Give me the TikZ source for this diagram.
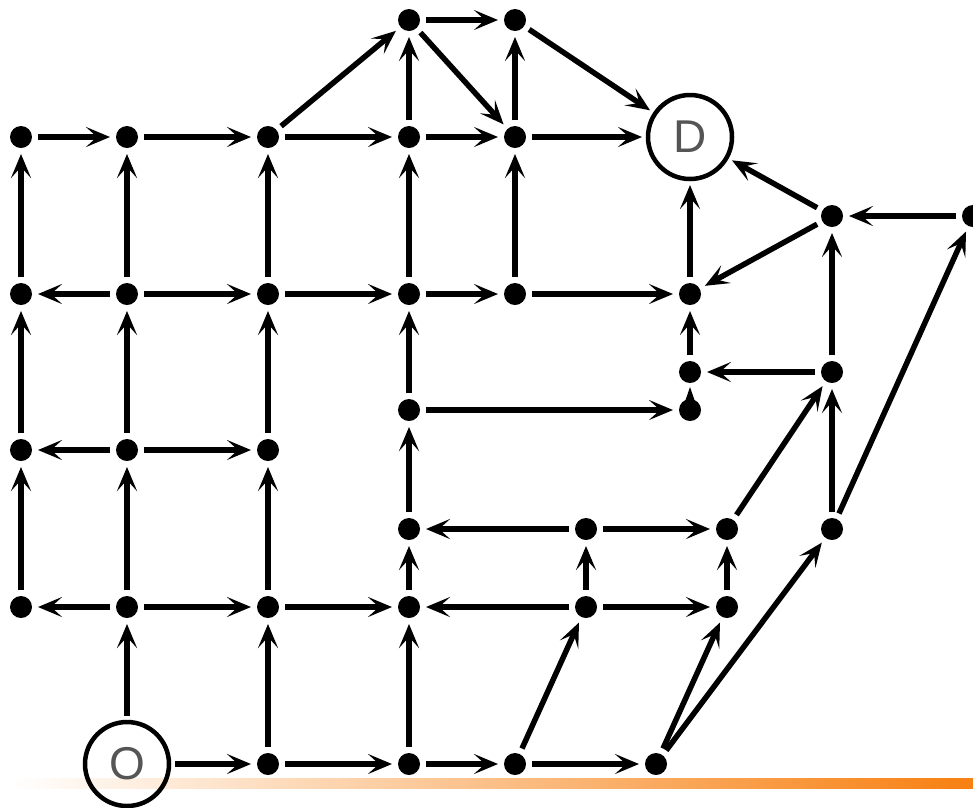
\documentclass[tikz,border=0pt]{standalone}
\usepackage{fontspec}
\setmainfont{Liberation Sans}
\usetikzlibrary{arrows.meta}
\definecolor{lineorange}{RGB}{247,128,17}
\definecolor{labelgray}{RGB}{85,85,85}
\begin{document}
\begin{tikzpicture}[x=1pt,y=-1pt,
  dot/.style={circle,fill=black,inner sep=0pt,minimum size=22pt,outer sep=6pt},
  bigc/.style={circle,draw=black,line width=4.5pt,inner sep=0pt,minimum size=84pt,outer sep=6pt,
    text=labelgray,font=\fontsize{46}{46}\selectfont},
  arr/.style={line width=5.5pt,-{Stealth[length=24pt,width=20pt,inset=11pt]}}]
\useasboundingbox (0,0) rectangle (973,807);
% orange base line
\shade[left color=white,right color=lineorange] (10,778) rectangle (973,788);
% nodes
\node[dot] (t1) at (409,20) {};
\node[dot] (t2) at (515,20) {};
\node[dot] (a1) at (21,137) {};
\node[dot] (a2) at (127,137) {};
\node[dot] (a3) at (268,137) {};
\node[dot] (a4) at (409,137) {};
\node[dot] (a5) at (515,137) {};
\node[bigc] (D) at (690,137) {D};
\node[dot] (e1) at (832,216) {};
\node[dot] (e2) at (973,216) {};
\node[dot] (b1) at (21,294) {};
\node[dot] (b2) at (127,294) {};
\node[dot] (b3) at (268,294) {};
\node[dot] (b4) at (409,294) {};
\node[dot] (b5) at (515,294) {};
\node[dot] (b6) at (690,294) {};
\node[dot] (f1) at (690,372) {};
\node[dot] (f2) at (832,372) {};
\node[dot] (g1) at (409,410) {};
\node[dot] (g2) at (690,410) {};
\node[dot] (c1) at (21,450) {};
\node[dot] (c2) at (127,450) {};
\node[dot] (c3) at (268,450) {};
\node[dot] (h1) at (409,529) {};
\node[dot] (h2) at (586,529) {};
\node[dot] (h3) at (727,529) {};
\node[dot] (h4) at (832,529) {};
\node[dot] (d1) at (21,607) {};
\node[dot] (d2) at (127,607) {};
\node[dot] (d3) at (268,607) {};
\node[dot] (d4) at (409,607) {};
\node[dot] (d5) at (586,607) {};
\node[dot] (d6) at (727,607) {};
\node[bigc] (O) at (127,764) {O};
\node[dot] (o2) at (268,764) {};
\node[dot] (o3) at (409,764) {};
\node[dot] (o4) at (515,764) {};
\node[dot] (o5) at (656,764) {};
% small tip on g2
\fill (690,387) -- (684.5,403) -- (695.5,403) -- cycle;
% edges: top
\draw[arr] (t1) -- (t2);
\draw[arr] (a3) -- (t1);
\draw[arr] (a4) -- (t1);
\draw[arr] (t1) -- (a5);
\draw[arr] (a5) -- (t2);
\draw[arr] (t2) -- (D);
\draw[arr] (a5) -- (D);
\draw[arr] (a1) -- (a2);
\draw[arr] (a2) -- (a3);
\draw[arr] (a3) -- (a4);
\draw[arr] (a4) -- (a5);
% verticals to row 137
\draw[arr] (b1) -- (a1);
\draw[arr] (b2) -- (a2);
\draw[arr] (b3) -- (a3);
\draw[arr] (b4) -- (a4);
\draw[arr] (b5) -- (a5);
% row 294
\draw[arr] (b2) -- (b1);
\draw[arr] (b2) -- (b3);
\draw[arr] (b3) -- (b4);
\draw[arr] (b4) -- (b5);
\draw[arr] (b5) -- (b6);
\draw[arr] (b6) -- (D);
% right part
\draw[arr] (e1) -- (D);
\draw[arr] (e1) -- (b6);
\draw[arr] (e2) -- (e1);
\draw[arr] (f2) -- (e1);
\draw[arr] (f1) -- (b6);
\draw[arr] (f2) -- (f1);
\draw[arr] (g1) -- (g2);
\draw[arr] (g1) -- (b4);
\draw[arr] (h1) -- (g1);
\draw[arr] (h2) -- (h1);
\draw[arr] (h2) -- (h3);
\draw[arr] (h3) -- (f2);
\draw[arr] (h4) -- (f2);
\draw[arr] (h4) -- (e2);
\draw[arr] (d4) -- (h1);
\draw[arr] (d5) -- (h2);
\draw[arr] (d6) -- (h3);
\draw[arr] (d5) -- (d4);
\draw[arr] (d5) -- (d6);
% left grid
\draw[arr] (c1) -- (b1);
\draw[arr] (c2) -- (b2);
\draw[arr] (c3) -- (b3);
\draw[arr] (c2) -- (c1);
\draw[arr] (c2) -- (c3);
\draw[arr] (d1) -- (c1);
\draw[arr] (d2) -- (c2);
\draw[arr] (d3) -- (c3);
\draw[arr] (d2) -- (d1);
\draw[arr] (d2) -- (d3);
\draw[arr] (d3) -- (d4);
% bottom
\draw[arr] (O) -- (d2);
\draw[arr] (o2) -- (d3);
\draw[arr] (o3) -- (d4);
\draw[arr] (O) -- (o2);
\draw[arr] (o2) -- (o3);
\draw[arr] (o3) -- (o4);
\draw[arr] (o4) -- (o5);
\draw[arr] (o4) -- (d5);
\draw[arr] (o5) -- (d6);
\draw[arr] (o5) -- (h4);
\end{tikzpicture}
\end{document}
